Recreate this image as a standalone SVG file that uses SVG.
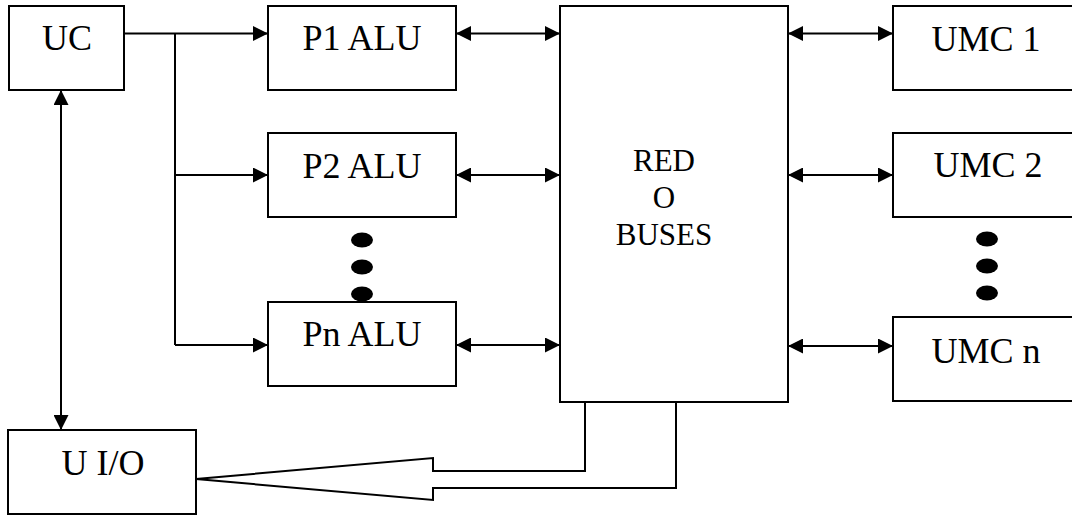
<svg xmlns="http://www.w3.org/2000/svg" width="1072" height="515" viewBox="0 0 1072 515">
<defs>
<style>
.box{fill:#fff;stroke:#000;stroke-width:2}
.ln{fill:none;stroke:#000;stroke-width:2}
text{font-family:'Liberation Serif','Times New Roman',serif;fill:#000;text-anchor:middle}
.t{font-size:36px}
.t2{font-size:31px}
.dot{fill:#000}
</style>
<marker id="ah" viewBox="0 0 15 15" refX="15" refY="7.5" markerWidth="15" markerHeight="15" markerUnits="userSpaceOnUse" orient="auto-start-reverse">
<path d="M0,0 L15,7.5 L0,15 Z" fill="#000"/>
</marker>
</defs>
<g id="connectors">
<path class="ln" d="M124,33.5 H268" marker-end="url(#ah)"/>
<path class="ln" d="M175,33.5 V345"/>
<path class="ln" d="M175,175 H268" marker-end="url(#ah)"/>
<path class="ln" d="M175,345 H268" marker-end="url(#ah)"/>
<path class="ln" d="M61,90 V430" marker-start="url(#ah)" marker-end="url(#ah)"/>
<path class="ln" d="M456,33.5 H560" marker-start="url(#ah)" marker-end="url(#ah)"/>
<path class="ln" d="M456,175 H560" marker-start="url(#ah)" marker-end="url(#ah)"/>
<path class="ln" d="M456,345 H560" marker-start="url(#ah)" marker-end="url(#ah)"/>
<path class="ln" d="M788,33.5 H893" marker-start="url(#ah)" marker-end="url(#ah)"/>
<path class="ln" d="M788,175 H893" marker-start="url(#ah)" marker-end="url(#ah)"/>
<path class="ln" d="M788,346 H893" marker-start="url(#ah)" marker-end="url(#ah)"/>
<path class="box" d="M585,402 V471 H433 V458 L196,479 L433,500 V488 H676 V402"/>
</g>
<g id="uc"><rect class="box" x="9" y="6" width="115" height="84"/><text class="t" x="67" y="50">UC</text></g>
<g id="p1"><rect class="box" x="268" y="6" width="188" height="84"/><text class="t" x="362" y="50">P1 ALU</text></g>
<g id="p2"><rect class="box" x="268" y="133" width="188" height="84"/><text class="t" x="362" y="178">P2 ALU</text></g>
<g id="pdots"><ellipse class="dot" cx="362" cy="240" rx="11" ry="7.5"/><ellipse class="dot" cx="362" cy="267" rx="11" ry="7.5"/><ellipse class="dot" cx="362" cy="294" rx="11" ry="7.5"/></g>
<g id="pn"><rect class="box" x="268" y="302" width="188" height="84"/><text class="t" x="362" y="346">Pn ALU</text></g>
<g id="red"><rect class="box" x="560" y="6" width="228" height="396"/><text class="t2" x="664" y="171">RED</text><text class="t2" x="664" y="208">O</text><text class="t2" x="664" y="245">BUSES</text></g>
<g id="umc1"><rect class="box" x="893" y="6" width="190" height="84"/><text class="t" x="986" y="51">UMC 1</text></g>
<g id="umc2"><rect class="box" x="893" y="133" width="190" height="84"/><text class="t" x="988" y="177">UMC 2</text></g>
<g id="udots"><ellipse class="dot" cx="987" cy="239" rx="11" ry="7.5"/><ellipse class="dot" cx="987" cy="266" rx="11" ry="7.5"/><ellipse class="dot" cx="987" cy="293" rx="11" ry="7.5"/></g>
<g id="umcn"><rect class="box" x="893" y="317" width="190" height="84"/><text class="t" x="986" y="363">UMC n</text></g>
<g id="uio"><rect class="box" x="8" y="430" width="188" height="84"/><text class="t" x="103" y="475">U I/O</text></g>
</svg>
